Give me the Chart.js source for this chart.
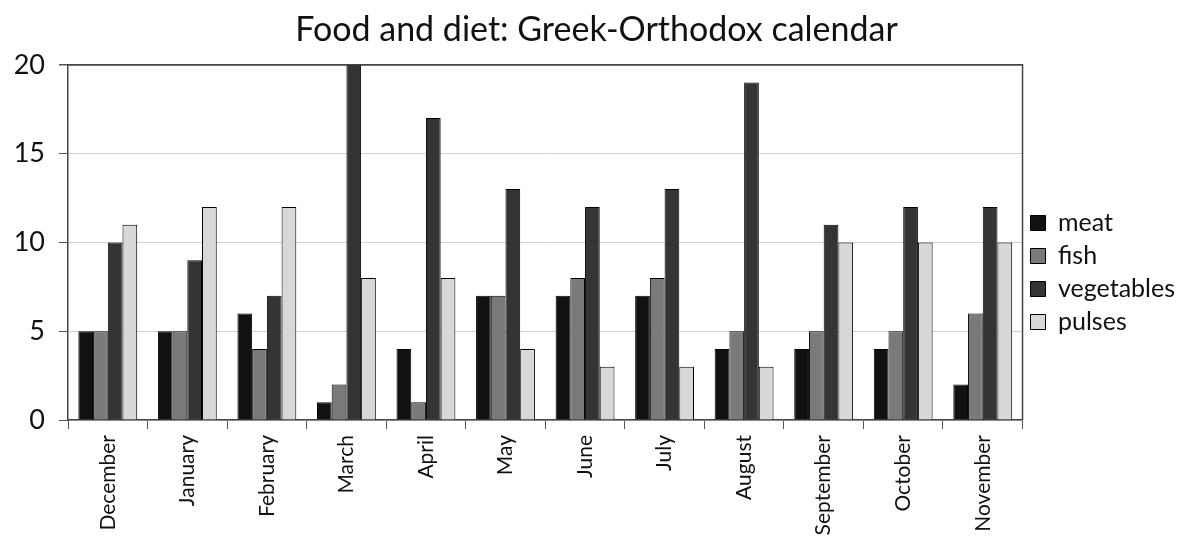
<!DOCTYPE html>
<html>
<head>
<meta charset="utf-8">
<script src="https://cdn.jsdelivr.net/npm/chart.js@4/dist/chart.umd.min.js"></script>
<style>
  html, body { margin: 0; padding: 0; background: #fff; }
  #wrap { width: 1185px; height: 545px; }
</style>
</head>
<body>
<div id="wrap"><canvas id="dietChart"></canvas></div>
<script>
// categories and series
const months = ['December', 'January', 'February', 'March', 'April', 'May',
                'June', 'July', 'August', 'September', 'October', 'November'];
const meat       = [5, 5, 6, 1, 4, 7, 7, 7, 4, 4, 4, 2];
const fish       = [5, 5, 4, 2, 1, 7, 8, 8, 5, 5, 5, 6];
const vegetables = [10, 9, 7, 20, 17, 13, 12, 13, 19, 11, 12, 12];
const pulses     = [11, 12, 12, 8, 8, 4, 3, 3, 3, 10, 10, 10];
const yTicks = [0, 5, 10, 15, 20];

const FONT = 'Lato, "Open Sans", sans-serif';

// right and top frame of the plot area
const frame = {
    id: 'frame',
    afterDraw(chart) {
        const a = chart.chartArea, c = chart.ctx;
        c.save();
        c.strokeStyle = '#444';
        c.lineWidth = 1.5;
        c.beginPath();
        c.moveTo(a.left, a.top);
        c.lineTo(a.right, a.top);
        c.lineTo(a.right, a.bottom);
        c.stroke();
        c.restore();
    }
};

function ds(label, data, color) {
    return {
        label: label,
        data: data,
        backgroundColor: color,
        borderColor: '#000',
        borderWidth: 1,
        barPercentage: 1.0,
        categoryPercentage: 0.74
    };
}

const ctx = document.getElementById('dietChart').getContext('2d');
new Chart(ctx, {
    type: 'bar',
    data: {
        labels: months,
        datasets: [
            ds('meat', meat, '#111111'),
            ds('fish', fish, '#7a7a7a'),
            ds('vegetables', vegetables, '#343434'),
            ds('pulses', pulses, '#d8d8d8')
        ]
    },
    options: {
        responsive: true,
        maintainAspectRatio: false,
        animation: false,
        layout: { padding: { left: 8, right: 0, top: 0, bottom: 0 } },
        plugins: {
            title: {
                display: true,
                text: 'Food and diet: Greek-Orthodox calendar',
                color: '#111',
                font: { family: FONT, size: 34, weight: 'normal' },
                padding: { top: 10, bottom: 14 }
            },
            legend: {
                display: true,
                position: 'right',
                labels: {
                    color: '#111',
                    font: { family: FONT, size: 25 },
                    boxWidth: 15,
                    boxHeight: 15,
                    padding: 8
                }
            },
            tooltip: { enabled: false }
        },
        scales: {
            x: {
                offset: true,
                grid: {
                    offset: true,
                    drawOnChartArea: false,
                    drawTicks: true,
                    tickLength: 9,
                    color: '#555'
                },
                border: { color: '#444', width: 1.5 },
                ticks: {
                    color: '#111',
                    font: { family: FONT, size: 21 },
                    minRotation: 90,
                    maxRotation: 90,
                    autoSkip: false,
                    padding: 6
                },
                afterFit(scale) { scale.height = 125; }
            },
            y: {
                min: 0,
                max: 20,
                afterBuildTicks(scale) {
                    scale.ticks = yTicks.map(v => ({ value: v }));
                },
                grid: {
                    color: ctx => ctx.tick && ctx.tick.value === 20 ? '#444' : '#d0d0d0',
                    lineWidth: ctx => ctx.tick && ctx.tick.value === 20 ? 1.5 : 1,
                    drawTicks: true,
                    tickLength: 9,
                    tickColor: '#555'
                },
                border: { color: '#444', width: 1.5 },
                ticks: {
                    color: '#111',
                    font: { family: FONT, size: 27 },
                    padding: 14
                },
                afterFit(scale) { scale.width = 60; }
            }
        }
    },
    plugins: [frame]
});
</script>
</body>
</html>
